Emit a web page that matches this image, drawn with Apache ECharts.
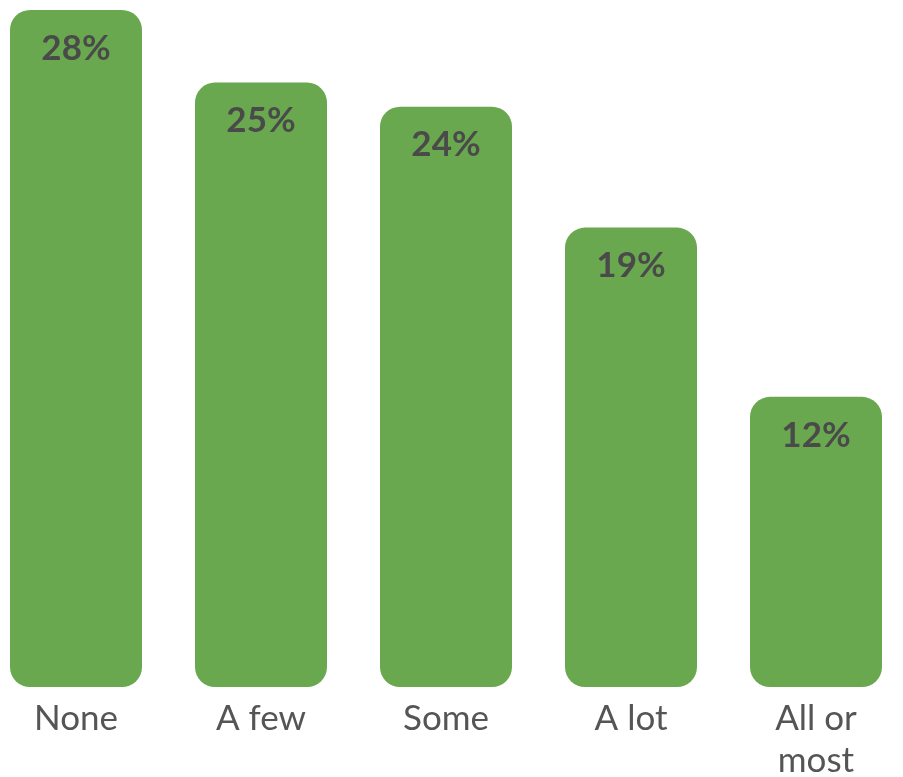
<!DOCTYPE html>
<html><head><meta charset="utf-8">
<script src="https://cdn.jsdelivr.net/npm/echarts@6/dist/echarts.min.js"></script>
<style>html,body{margin:0;padding:0;background:#fff}#c{width:903px;height:777px}</style>
</head><body><div id="c"></div>
<script>
const categories = ['None', 'A few', 'Some', 'A lot', 'All or\nmost'];
const values = [28, 25, 24, 19, 12];
const chart = echarts.init(document.getElementById('c'));
chart.setOption({
  animation: false,
  grid: { left: -16.5, width: 925, top: 10, bottom: 90, outerBoundsMode: 'none', containLabel: false },
  xAxis: {
    type: 'category', data: categories,
    axisLine: { show: false }, axisTick: { show: false },
    axisLabel: { color: '#555', fontFamily: 'Lato', fontSize: 35, margin: 11, lineHeight: 42, verticalAlign: 'top' }
  },
  yAxis: { type: 'value', min: 0, max: 28, show: false, splitLine: { show: false } },
  series: [{
    type: 'bar', data: values, barWidth: 132,
    itemStyle: { color: '#6aa84f', borderRadius: 20 },
    label: {
      show: true, position: 'insideTop', distance: 21,
      formatter: '{c}%', color: '#4a4a4a', fontFamily: 'Lato', fontWeight: 'bold', fontSize: 35
    }
  }]
});
</script></body></html>
